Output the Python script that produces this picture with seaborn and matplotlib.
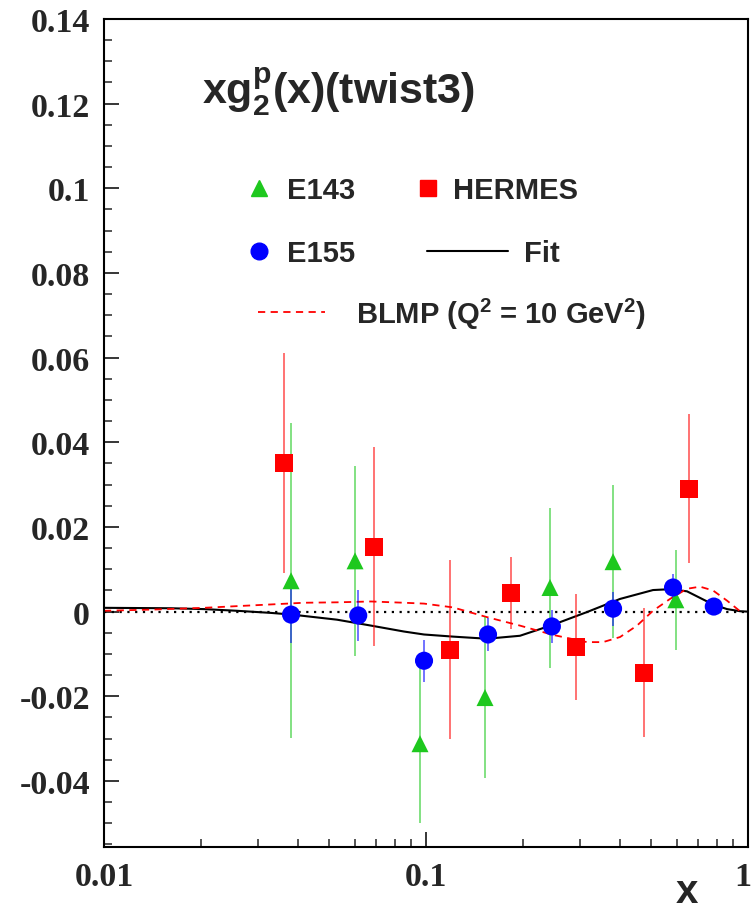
import matplotlib
matplotlib.use("Agg")
import numpy as np
import pandas as pd
import matplotlib.pyplot as plt
import matplotlib.transforms as mtransforms
import seaborn as sns
from matplotlib.lines import Line2D
from matplotlib.font_manager import FontProperties
from matplotlib.ticker import FixedLocator, FixedFormatter, LogLocator, NullFormatter, MultipleLocator

# ---------------- data ----------------
hermes_x = [0.0362, 0.0689, 0.1187, 0.1837, 0.292, 0.475, 0.656]
hermes_y = [0.0352, 0.0153, -0.0090, 0.0043, -0.0083, -0.0144, 0.0290]
hermes_e = [0.0260, 0.0235, 0.0212, 0.0085, 0.0125, 0.0152, 0.0176]

e143_x = [0.0381, 0.0602, 0.0958, 0.1525, 0.2427, 0.381, 0.597]
e143_y = [0.0073, 0.0120, -0.0312, -0.0203, 0.0057, 0.0118, 0.0028]
e143_e = [0.0372, 0.0224, 0.0187, 0.0190, 0.0189, 0.0181, 0.0118]

e155_x = [0.0381, 0.0616, 0.0986, 0.1558, 0.246, 0.381, 0.585, 0.783]
e155_y = [-0.0007, -0.0009, -0.0116, -0.0054, -0.0035, 0.0007, 0.0057, 0.0012]
e155_e = [0.0068, 0.0060, 0.0050, 0.0040, 0.0040, 0.0040, 0.0032, 0.0015]

fit_x = [0.01, 0.01615, 0.02044, 0.02588, 0.03301, 0.03836, 0.05291, 0.06749,
         0.08545, 0.09858, 0.1213, 0.1547, 0.1958, 0.2480, 0.3162, 0.4005,
         0.5070, 0.5725, 0.6465, 0.7786, 0.8606, 0.9445, 1.0]
fit_y = [0.0009, 0.0008, 0.0006, 0.0002, -0.0003, -0.0007, -0.0019, -0.0033,
         -0.0047, -0.0054, -0.0059, -0.0064, -0.0057, -0.0031, -0.0001, 0.0030,
         0.0051, 0.0053, 0.0048, 0.0017, 0.0006, 0.0001, 0.0]

blmp_x = [0.01, 0.0143, 0.02044, 0.02588, 0.03301, 0.0418, 0.05291, 0.06749,
          0.08545, 0.09858, 0.1213, 0.1547, 0.1958, 0.2480, 0.3162, 0.3546,
          0.4005, 0.4521, 0.5070, 0.5725, 0.6465, 0.7096, 0.7786, 0.8606, 0.9445]
blmp_y = [0.0002, 0.0005, 0.0009, 0.0013, 0.0017, 0.0021, 0.0022, 0.0024,
          0.0021, 0.0019, 0.0010, -0.0013, -0.0033, -0.0055, -0.0072, -0.0072,
          -0.0060, -0.0033, 0.0002, 0.0030, 0.0054, 0.0059, 0.0050, 0.0026, 0.0001]

ytick_vals = [-0.04, -0.02, 0.0, 0.02, 0.04, 0.06, 0.08, 0.10, 0.12, 0.14]
ytick_labels = ["-0.04", "-0.02", "0", "0.02", "0.04", "0.06", "0.08", "0.1", "0.12", "0.14"]
xtick_vals = [0.01, 0.1, 1.0]
xtick_labels = ["0.01", "0.1", "1"]

GREEN = "#1ec81e"
RED = "#ff0000"
BLUE = "#0000ff"

# ---------------- style ----------------
sns.set_theme(style="white")
plt.rcParams.update({
    "font.family": ["Liberation Sans", "DejaVu Sans"],
    "mathtext.fontset": "custom",
    "mathtext.rm": "Liberation Sans:bold",
    "mathtext.it": "Liberation Sans:bold",
    "mathtext.bf": "Liberation Sans:bold",
    "mathtext.default": "rm",
    "axes.edgecolor": "black",
    "axes.linewidth": 1.5,
})

W, H = 753, 912
fig = plt.figure(figsize=(W / 100, H / 100), dpi=100)
L, R, T, B = 104, 748, 20, 848
ax = fig.add_axes([L / W, 1 - B / H, (R - L) / W, (B - T) / H])

def fx(px):
    return px / W

def fy(py):
    return 1 - py / H

df_h = pd.DataFrame({"x": hermes_x, "y": hermes_y, "e": hermes_e})
df_a = pd.DataFrame({"x": e143_x, "y": e143_y, "e": e143_e})
df_b = pd.DataFrame({"x": e155_x, "y": e155_y, "e": e155_e})

# zero line
ax.axhline(0.0, color="black", ls=(0, (1, 2.5)), lw=1.6, zorder=1)

# curves
sns.lineplot(x=fit_x, y=fit_y, ax=ax, color="black", lw=1.5, sort=False,
             estimator=None, zorder=2)
sns.lineplot(x=blmp_x, y=blmp_y, ax=ax, color=RED, lw=1.3, sort=False,
             estimator=None, zorder=2)
ax.lines[-1].set_dashes((4, 3))

# error bars
for d, c in [(df_a, GREEN), (df_h, RED), (df_b, BLUE)]:
    ax.errorbar(d["x"], d["y"], yerr=d["e"], fmt="none", ecolor=c, elinewidth=1.1,
                alpha=0.7, capsize=0, zorder=3)

# markers
sns.scatterplot(data=df_a, x="x", y="y", ax=ax, marker="^", s=150, color=GREEN,
                edgecolor="none", linewidth=0, zorder=4)
sns.scatterplot(data=df_h, x="x", y="y", ax=ax, marker="s", s=170, color=RED,
                edgecolor="none", linewidth=0, zorder=4)
sns.scatterplot(data=df_b, x="x", y="y", ax=ax, marker="o", s=170, color=BLUE,
                edgecolor="none", linewidth=0, zorder=5)

# axes
ax.set_xscale("log")
ax.set_xlim(0.01, 1.0)
ax.set_ylim(-0.0556, 0.14)
ax.set_xlabel("")
ax.set_ylabel("")

tick_font = FontProperties(family="Liberation Serif", weight="bold", size=24.5)
ax.yaxis.set_major_locator(FixedLocator(ytick_vals))
ax.yaxis.set_major_formatter(FixedFormatter(ytick_labels))
ax.yaxis.set_minor_locator(MultipleLocator(0.005))
ax.xaxis.set_major_locator(FixedLocator(xtick_vals))
ax.xaxis.set_major_formatter(FixedFormatter(xtick_labels))
ax.xaxis.set_minor_locator(LogLocator(base=10, subs=np.arange(2, 10)))
ax.xaxis.set_minor_formatter(NullFormatter())
ax.tick_params(axis="both", which="major", direction="in", length=11, width=1.3,
               left=True, bottom=True, right=False, top=False, pad=10)
ax.tick_params(axis="both", which="minor", direction="in", length=6, width=1.1,
               left=True, bottom=True, right=False, top=False)
for lab in ax.get_xticklabels() + ax.get_yticklabels():
    lab.set_fontproperties(tick_font)
for s in ax.spines.values():
    s.set_visible(True)
    s.set_linewidth(1.5)
    s.set_color("black")

# keep the last x tick label ("1") inside the canvas
last = ax.get_xticklabels()[-1]
last.set_transform(last.get_transform() +
                   mtransforms.ScaledTranslation(-5 / 100, 0, fig.dpi_scale_trans))

# title and axis label
fig.text(fx(202), fy(105), r"$\mathrm{xg}_{2}^{p}\mathrm{(x)(twist3)}$",
         fontsize=31, ha="left", va="baseline")
fig.text(fx(687), fy(903), "x", fontsize=29, fontweight="bold", ha="center",
         va="baseline")

# legends
lfont = FontProperties(family="Liberation Sans", weight="bold", size=21)
entries = [
    (Line2D([], [], marker="^", ls="none", color=GREEN, markersize=11), "E143", 245, 191, 0.95, 0.5),
    (Line2D([], [], marker="s", ls="none", color=RED, markersize=11), "HERMES", 414, 191, 0.95, 0.4),
    (Line2D([], [], marker="o", ls="none", color=BLUE, markersize=12), "E155", 245, 254, 0.95, 0.5),
    (Line2D([], [], color="black", lw=1.5), "Fit", 427, 254, 2.78, 0.55),
    (Line2D([], [], color=RED, lw=1.3, dashes=(4, 3)), r"BLMP (Q$^{2}$ = 10 GeV$^{2}$)", 258, 314, 2.3, 1.05),
]
for h, lab, px, py, hl, tp in entries:
    fig.legend([h], [lab], loc="center left", bbox_to_anchor=(fx(px), fy(py)),
               bbox_transform=fig.transFigure, frameon=False, borderpad=0,
               borderaxespad=0, handlelength=hl, handletextpad=tp, prop=lfont)

fig.savefig("out.png", dpi=100)
